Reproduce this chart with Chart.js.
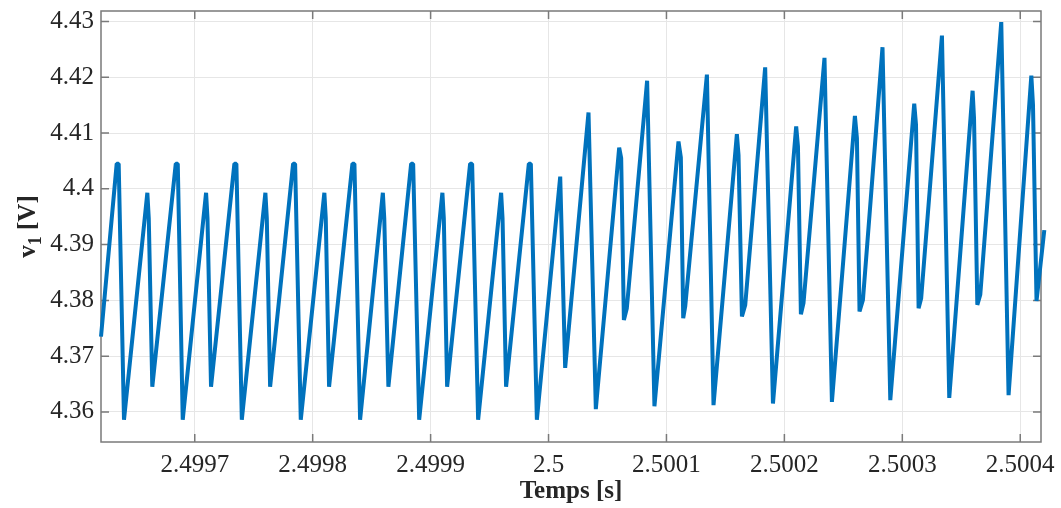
<!DOCTYPE html>
<html>
<head>
<meta charset="utf-8">
<script src="https://cdn.jsdelivr.net/npm/chart.js@4.4.1/dist/chart.umd.min.js"></script>
<style>
  html, body { margin: 0; padding: 0; background: #fff; }
</style>
</head>
<body>
<canvas id="v1-chart" width="1061" height="508"></canvas>
<script>
// Temps [s]
const timeS = [
  2.4996205, 2.4996338, 2.4996355, 2.4996400, 2.4996598, 2.4996610, 2.4996640,
  2.4996839, 2.4996856, 2.4996898, 2.4997096, 2.4997108, 2.4997138,
  2.4997336, 2.4997353, 2.4997399, 2.4997599, 2.4997611, 2.4997639,
  2.4997834, 2.4997851, 2.4997899, 2.4998099, 2.4998111, 2.4998139,
  2.4998337, 2.4998354, 2.4998402, 2.4998595, 2.4998607, 2.4998642,
  2.4998835, 2.4998852, 2.4998903, 2.4999100, 2.4999112, 2.4999140,
  2.4999335, 2.4999352, 2.4999403, 2.4999598, 2.4999610, 2.4999640,
  2.4999833, 2.4999850, 2.4999901,
  2.5000099, 2.5000141,
  2.5000339, 2.5000401, 2.5000599, 2.5000616, 2.5000639, 2.5000664,
  2.5000836, 2.5000898, 2.5001102, 2.5001122, 2.5001142, 2.5001159,
  2.5001343, 2.5001399, 2.5001597, 2.5001611, 2.5001640, 2.5001668,
  2.5001837, 2.5001903, 2.5002100, 2.5002115, 2.5002140, 2.5002162,
  2.5002340, 2.5002403, 2.5002598, 2.5002615, 2.5002637, 2.5002666,
  2.5002832, 2.5002898, 2.5003101, 2.5003116, 2.5003138, 2.5003160,
  2.5003336, 2.5003398, 2.5003596, 2.5003608, 2.5003636, 2.5003661,
  2.5003839, 2.5003901, 2.5004094, 2.5004108, 2.5004138, 2.5004204
];

// v1 [V]
const v1Volts = [
  4.3735, 4.4045, 4.4045, 4.3586, 4.3993, 4.3947, 4.3645,
  4.4045, 4.4045, 4.3586, 4.3993, 4.3947, 4.3645,
  4.4045, 4.4045, 4.3586, 4.3993, 4.3947, 4.3645,
  4.4045, 4.4045, 4.3586, 4.3993, 4.3947, 4.3645,
  4.4045, 4.4045, 4.3586, 4.3993, 4.3947, 4.3645,
  4.4045, 4.4045, 4.3586, 4.3993, 4.3947, 4.3645,
  4.4045, 4.4045, 4.3586, 4.3993, 4.3947, 4.3645,
  4.4045, 4.4045, 4.3586,
  4.4022, 4.3679,
  4.4137, 4.3605, 4.4074, 4.4055, 4.3765, 4.3786,
  4.4194, 4.3610, 4.4085, 4.4056, 4.3768, 4.3789,
  4.4205, 4.3612, 4.4098, 4.4061, 4.3771, 4.3792,
  4.4218, 4.3615, 4.4112, 4.4076, 4.3775, 4.3795,
  4.4235, 4.3618, 4.4131, 4.4091, 4.3780, 4.3801,
  4.4254, 4.3621, 4.4153, 4.4115, 4.3786, 4.3804,
  4.4275, 4.3625, 4.4176, 4.4127, 4.3792, 4.3810,
  4.4299, 4.3630, 4.4203, 4.4151, 4.3799, 4.3926
];

const xTicks = [2.4997, 2.4998, 2.4999, 2.5, 2.5001, 2.5002, 2.5003, 2.5004];
const yTicks = [4.36, 4.37, 4.38, 4.39, 4.40, 4.41, 4.42, 4.43];

const xRange = [2.4996205, 2.5004176];
const yRange = [4.3546, 4.4319];

const axisGrey = '#7a7a7a';
const textColor = '#262626';
const serif = '"Liberation Serif", "Times New Roman", serif';

// box round the plot and inward ticks, drawn under the trace like MATLAB
const matlabBox = {
  id: 'matlabBox',
  beforeDatasetsDraw(chart) {
    const { ctx, chartArea: a, scales } = chart;
    const len = 8;
    ctx.save();
    ctx.strokeStyle = axisGrey;
    ctx.lineWidth = 1.5;
    ctx.strokeRect(a.left, a.top, a.right - a.left, a.bottom - a.top);
    ctx.beginPath();
    scales.x.ticks.forEach((t) => {
      const px = scales.x.getPixelForValue(t.value);
      ctx.moveTo(px, a.bottom); ctx.lineTo(px, a.bottom - len);
      ctx.moveTo(px, a.top); ctx.lineTo(px, a.top + len);
    });
    scales.y.ticks.forEach((t) => {
      const py = scales.y.getPixelForValue(t.value);
      ctx.moveTo(a.left, py); ctx.lineTo(a.left + len, py);
      ctx.moveTo(a.right, py); ctx.lineTo(a.right - len, py);
    });
    ctx.stroke();
    ctx.restore();
  }
};

// y title with subscript: v_1 [V]
const yTitle = {
  id: 'yTitle',
  afterDraw(chart) {
    const { ctx, chartArea: a } = chart;
    const big = 'bold 25px ' + serif;
    const small = 'bold 18px ' + serif;
    ctx.save();
    ctx.translate(35, (a.top + a.bottom) / 2);
    ctx.rotate(-Math.PI / 2);
    ctx.fillStyle = textColor;
    ctx.textBaseline = 'alphabetic';
    ctx.font = big;
    const wV = ctx.measureText('v').width;
    const wRest = ctx.measureText(' [V]').width;
    ctx.font = small;
    const wSub = ctx.measureText('1').width;
    let x = -(wV + wSub + wRest) / 2;
    ctx.font = big;
    ctx.fillText('v', x, 0);
    x += wV;
    ctx.font = small;
    ctx.fillText('1', x, 6);
    x += wSub;
    ctx.font = big;
    ctx.fillText(' [V]', x, 0);
    ctx.restore();
  }
};

new Chart(document.getElementById('v1-chart'), {
  type: 'line',
  data: {
    datasets: [{
      data: timeS.map((t, i) => ({ x: t, y: v1Volts[i] })),
      borderColor: '#0072BD',
      borderWidth: 4,
      borderJoinStyle: 'bevel',
      pointRadius: 0,
      tension: 0,
      clip: 8
    }]
  },
  options: {
    responsive: false,
    animation: false,
    layout: { padding: { top: 11, right: 20, left: 0, bottom: 0 } },
    plugins: {
      legend: { display: false },
      tooltip: { enabled: false }
    },
    scales: {
      x: {
        type: 'linear',
        min: xRange[0],
        max: xRange[1],
        afterBuildTicks: (s) => { s.ticks = xTicks.map((v) => ({ value: v })); },
        afterFit: (s) => { s.height = 66; s.paddingLeft = 0; s.paddingRight = 0; },
        grid: { color: '#e6e6e6', lineWidth: 1, drawTicks: false },
        border: { display: false },
        ticks: {
          autoSkip: false,
          maxRotation: 0,
          padding: 8,
          color: textColor,
          font: { family: serif, size: 25 },
          callback: (v) => String(Number(v.toFixed(4)))
        },
        title: {
          display: true,
          text: 'Temps [s]',
          color: textColor,
          font: { family: serif, size: 25, weight: 'bold' },
          padding: { top: 0, bottom: 1 }
        }
      },
      y: {
        min: yRange[0],
        max: yRange[1],
        afterBuildTicks: (s) => { s.ticks = yTicks.map((v) => ({ value: v })); },
        afterFit: (s) => { s.width = 101; s.paddingTop = 0; s.paddingBottom = 0; },
        grid: { color: '#e6e6e6', lineWidth: 1, drawTicks: false },
        border: { display: false },
        ticks: {
          padding: 7,
          color: textColor,
          font: { family: serif, size: 25 },
          callback: (v) => String(Number(v.toFixed(2)))
        }
      }
    }
  },
  plugins: [matlabBox, yTitle]
});
</script>
</body>
</html>
